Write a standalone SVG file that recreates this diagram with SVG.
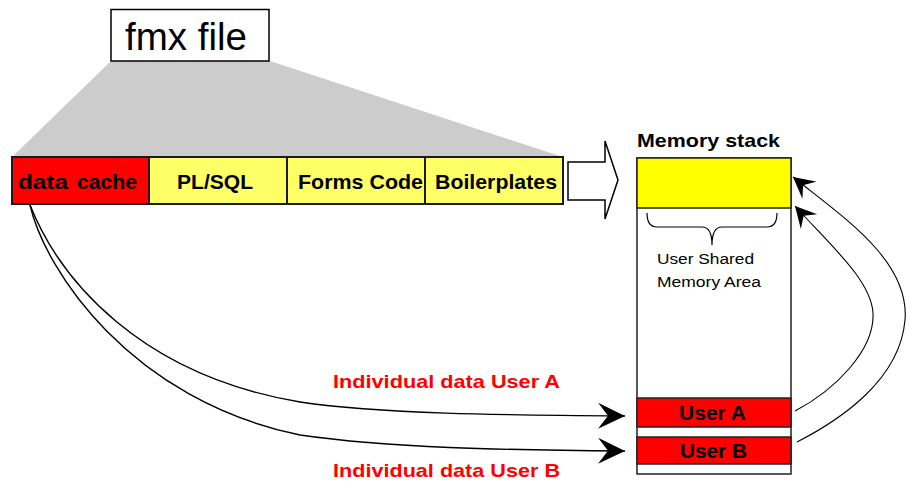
<svg xmlns="http://www.w3.org/2000/svg" width="906" height="483" viewBox="0 0 906 483">
  <style>
    .bold { font-family: "Liberation Sans", Arial, sans-serif; font-weight: bold; fill: #000; }
    .reg { font-family: "Liberation Sans", Arial, sans-serif; fill: #000; }
    .red { fill: #FF0000; }
    .seg { stroke: #1a1a1a; stroke-width: 2; }
    .cache { fill: #FF0000; }
    .code { fill: #FFFF66; }
    .wire { fill: none; stroke: #000; stroke-width: 1.4; }
    .wire-thin { fill: none; stroke: #000; stroke-width: 1.1; }
  </style>
  <defs>
    <marker id="head" markerUnits="userSpaceOnUse" markerWidth="30" markerHeight="30" refX="27" refY="13" orient="auto" viewBox="0 0 30 26">
      <path d="M27,13 L0,0 L10,13 L0,26 Z" fill="#000"/>
    </marker>
    <marker id="headS" markerUnits="userSpaceOnUse" markerWidth="24" markerHeight="24" refX="21" refY="11" orient="auto" viewBox="0 0 24 22">
      <path d="M21,11 L0,0 L8,11 L0,22 Z" fill="#000"/>
    </marker>
  </defs>

  <rect width="906" height="483" fill="#fff"/>

  <!-- fmx file and its exploded view -->
  <g id="fmx-file">
    <polygon points="111,61 270,61 563,157 12,157" fill="#CCCCCC"/>
    <rect x="111" y="9.5" width="158" height="51.5" fill="#fff" stroke="#000" stroke-width="1.5"/>
    <text class="reg" x="125" y="50" font-size="38" textLength="122" lengthAdjust="spacingAndGlyphs">fmx file</text>
  </g>

  <!-- fmx file sections -->
  <g id="data-cache">
    <rect class="seg cache" x="12" y="157" width="137" height="47"/>
    <text class="bold" y="189" font-size="21"><tspan x="18" textLength="50" lengthAdjust="spacingAndGlyphs">data</tspan><tspan x="77" textLength="60" lengthAdjust="spacingAndGlyphs">cache</tspan></text>
  </g>
  <g id="plsql">
    <rect class="seg code" x="149" y="157" width="138" height="47"/>
    <text class="bold" x="177" y="189" font-size="21" textLength="76" lengthAdjust="spacingAndGlyphs">PL/SQL</text>
  </g>
  <g id="forms-code">
    <rect class="seg code" x="287" y="157" width="138" height="47"/>
    <text class="bold" x="298" y="189" font-size="21" textLength="125" lengthAdjust="spacingAndGlyphs">Forms Code</text>
  </g>
  <g id="boilerplates">
    <rect class="seg code" x="425" y="157" width="138" height="47"/>
    <text class="bold" x="435" y="189" font-size="21" textLength="122" lengthAdjust="spacingAndGlyphs">Boilerplates</text>
  </g>

  <!-- hollow block arrow -->
  <g id="load-arrow">
    <polygon points="568,162 605,162 605,141 618,180 605,219 605,200 568,200" fill="#fff" stroke="#000" stroke-width="1.5"/>
  </g>

  <!-- memory stack -->
  <g id="memory-stack">
    <text class="bold" x="637" y="147" font-size="19" textLength="143" lengthAdjust="spacingAndGlyphs">Memory stack</text>
    <rect x="637" y="158" width="154" height="316" fill="#fff" stroke="#222" stroke-width="1.5"/>
    <rect x="637" y="158" width="154" height="50" fill="#FFFF00" stroke="#222" stroke-width="1.5"/>
    <path d="M647,213 Q647,227 657,227 L702,227 Q712,227 712,245 Q712,227 722,227 L767,227 Q777,227 777,213" fill="none" stroke="#000" stroke-width="1.2"/>
    <text class="reg" x="657" y="264" font-size="14" textLength="97" lengthAdjust="spacingAndGlyphs">User Shared</text>
    <text class="reg" x="657" y="287" font-size="14" textLength="104" lengthAdjust="spacingAndGlyphs">Memory Area</text>
  </g>
  <g id="user-a">
    <rect x="637" y="398" width="154" height="29" fill="#FF0000" stroke="#222" stroke-width="1.5"/>
    <text class="bold" x="679" y="420" font-size="21" textLength="67" lengthAdjust="spacingAndGlyphs">User A</text>
  </g>
  <g id="user-b">
    <rect x="637" y="437" width="154" height="27" fill="#FF0000" stroke="#222" stroke-width="1.5"/>
    <text class="bold" x="680" y="458" font-size="21" textLength="67" lengthAdjust="spacingAndGlyphs">User B</text>
  </g>

  <!-- connectors -->
  <g id="connectors">
    <path class="wire" d="M30,205 C60,280 140,375 300,402 C380,414 500,415 625,416" marker-end="url(#head)"/>
    <path class="wire" d="M30,205 C45,270 130,400 300,435 C390,448 500,450 625,451" marker-end="url(#head)"/>
    <path class="wire-thin" d="M795,411 C835,390 875,350 873,313 C871,280 830,245 795,206" marker-end="url(#headS)"/>
    <path class="wire-thin" d="M797,442 C840,420 900,380 905,320 C910,260 840,215 793,177" marker-end="url(#headS)"/>
  </g>

  <!-- connector labels -->
  <g id="labels">
    <text class="bold red" x="333" y="388" font-size="19" textLength="227" lengthAdjust="spacingAndGlyphs">Individual data User A</text>
    <text class="bold red" x="333" y="477" font-size="19" textLength="227" lengthAdjust="spacingAndGlyphs">Individual data User B</text>
  </g>
</svg>
